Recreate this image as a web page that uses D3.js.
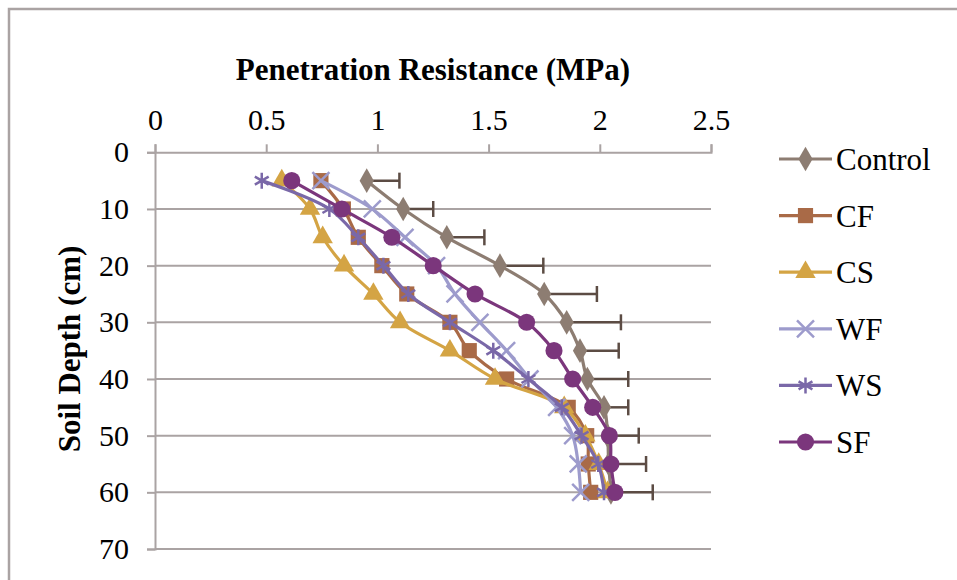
<!DOCTYPE html>
<html>
<head>
<meta charset="utf-8">
<script src="https://cdn.jsdelivr.net/npm/d3@7"></script>
<style>
  body { margin: 0; background: #fff; }
  svg { display: block; font-family: "Liberation Serif", "Times New Roman", serif; }
</style>
</head>
<body>
<svg id="chart" width="957" height="580"></svg>
<script>
// depths (cm) and penetration resistance (MPa)
const depths = [5, 10, 15, 20, 25, 30, 35, 40, 45, 50, 55, 60];
const control = [0.952, 1.116, 1.312, 1.551, 1.750, 1.851, 1.911, 1.944, 2.019, 2.035, 2.040, 2.050];
const controlErr = [0.147, 0.135, 0.169, 0.195, 0.237, 0.244, 0.174, 0.184, 0.109, 0.140, 0.168, 0.188];
const cf = [0.746, 0.847, 0.914, 1.020, 1.132, 1.326, 1.413, 1.581, 1.858, 1.941, 1.948, 1.959];
const cs = [0.570, 0.697, 0.754, 0.850, 0.982, 1.102, 1.326, 1.529, 1.840, 1.935, 1.995, 2.035];
const wf = [0.746, 0.977, 1.124, 1.266, 1.349, 1.461, 1.581, 1.686, 1.806, 1.878, 1.903, 1.914];
const ws = [0.480, 0.784, 0.914, 1.027, 1.139, 1.326, 1.521, 1.679, 1.829, 1.918, 1.993, 2.019];
const sf = [0.615, 0.840, 1.065, 1.251, 1.439, 1.671, 1.794, 1.878, 1.968, 2.043, 2.050, 2.068];

const seriesNames = ["Control", "CF", "CS", "WF", "WS", "SF"];
const xTicks = [0, 0.5, 1, 1.5, 2, 2.5];
const yTicks = [0, 10, 20, 30, 40, 50, 60, 70];

const series = [
  { name: "Control", values: control, color: "#8d7d72", symbol: d3.symbolDiamond, size: 175, fill: true },
  { name: "CF", values: cf, color: "#a96a47", symbol: d3.symbolSquare, size: 230, fill: true },
  { name: "CS", values: cs, color: "#d4a444", symbol: d3.symbolTriangle, size: 180, fill: true },
  { name: "WF", values: wf, color: "#9d9bcc", symbol: d3.symbolTimes, size: 190, fill: false },
  { name: "WS", values: ws, color: "#7a68a8", symbol: d3.symbolAsterisk, size: 180, fill: false },
  { name: "SF", values: sf, color: "#7b367c", symbol: d3.symbolCircle, size: 230, fill: true }
];

const svg = d3.select("#chart");
const axisColor = "#aaa3a3";

// outer chart border
svg.append("rect")
  .attr("x", 9).attr("y", 9)
  .attr("width", 980).attr("height", 600)
  .attr("fill", "none")
  .attr("stroke", axisColor)
  .attr("stroke-width", 2.5);

const x = d3.scaleLinear().domain([0, 2.5]).range([155, 711]);
const y = d3.scaleLinear().domain([0, 70]).range([152.3, 549]);

// gridlines
svg.append("g")
  .selectAll("line")
  .data(yTicks.slice(1))
  .join("line")
    .attr("x1", x(0)).attr("x2", x(2.5))
    .attr("y1", d => y(d)).attr("y2", d => y(d))
    .attr("stroke", axisColor)
    .attr("stroke-width", 2);

// top axis
const xAxis = svg.append("g")
  .attr("transform", `translate(0,${y(0)})`)
  .call(d3.axisTop(x).tickValues(xTicks).tickSize(8).tickPadding(14).tickFormat(d3.format("")));
xAxis.select(".domain").attr("stroke", axisColor).attr("stroke-width", 2);
xAxis.selectAll(".tick line").attr("stroke", axisColor).attr("stroke-width", 2);
xAxis.selectAll(".tick text")
  .attr("fill", "#000")
  .style("font-size", "30px")
  .style("font-family", "Liberation Serif");

// left axis
const yAxis = svg.append("g")
  .attr("transform", `translate(${x(0)},0)`)
  .call(d3.axisLeft(y).tickValues(yTicks).tickSize(8).tickPadding(18));
yAxis.select(".domain").attr("stroke", axisColor).attr("stroke-width", 2);
yAxis.selectAll(".tick line").attr("stroke", axisColor).attr("stroke-width", 2);
yAxis.selectAll(".tick text")
  .attr("fill", "#000")
  .style("font-size", "30px")
  .style("font-family", "Liberation Serif");

// titles
svg.append("text")
  .attr("x", 433).attr("y", 80)
  .attr("text-anchor", "middle")
  .style("font-size", "31px")
  .style("font-weight", "bold")
  .text("Penetration Resistance (MPa)");

svg.append("text")
  .attr("transform", `translate(80,${349}) rotate(-90)`)
  .attr("text-anchor", "middle")
  .style("font-size", "31px")
  .style("font-weight", "bold")
  .text("Soil Depth (cm)");

const line = d3.line()
  .x(d => x(d[0]))
  .y(d => y(d[1]))
  .curve(d3.curveCatmullRom.alpha(0.5));

function drawMarker(sel, s) {
  sel.attr("d", d3.symbol().type(s.symbol).size(s.size))
    .attr("fill", s.fill ? s.color : "none")
    .attr("stroke", s.color)
    .attr("stroke-width", s.fill ? 0 : 2.5);
}

series.forEach(s => {
  const pts = depths.map((dp, i) => [s.values[i], dp]);
  const g = svg.append("g");

  if (s.name === "Control") {
    const eb = g.append("g");
    depths.forEach((dp, i) => {
      const x1 = x(control[i]), x2 = x(control[i] + controlErr[i]), yy = y(dp);
      eb.append("line").attr("x1", x1).attr("x2", x2).attr("y1", yy).attr("y2", yy)
        .attr("stroke", "#5c4c44").attr("stroke-width", 2.5);
      eb.append("line").attr("x1", x2).attr("x2", x2).attr("y1", yy - 8).attr("y2", yy + 8)
        .attr("stroke", "#5c4c44").attr("stroke-width", 2.5);
    });
  }

  g.append("path")
    .datum(pts)
    .attr("fill", "none")
    .attr("stroke", s.color)
    .attr("stroke-width", 3.2)
    .attr("d", line);

  g.selectAll("path.m")
    .data(pts)
    .join("path")
      .attr("class", "m")
      .attr("transform", d => `translate(${x(d[0])},${y(d[1])})`)
      .call(drawMarker, s);
});

// legend
const legend = svg.append("g");
series.forEach((s, i) => {
  const ly = 159 + i * 56.6;
  legend.append("line")
    .attr("x1", 779).attr("x2", 832)
    .attr("y1", ly).attr("y2", ly)
    .attr("stroke", s.color).attr("stroke-width", 3.2);
  legend.append("path")
    .attr("transform", `translate(805.5,${ly})`)
    .call(drawMarker, s);
  legend.append("text")
    .attr("x", 836).attr("y", ly + 11)
    .style("font-size", "31px")
    .text(s.name);
});
</script>
</body>
</html>
